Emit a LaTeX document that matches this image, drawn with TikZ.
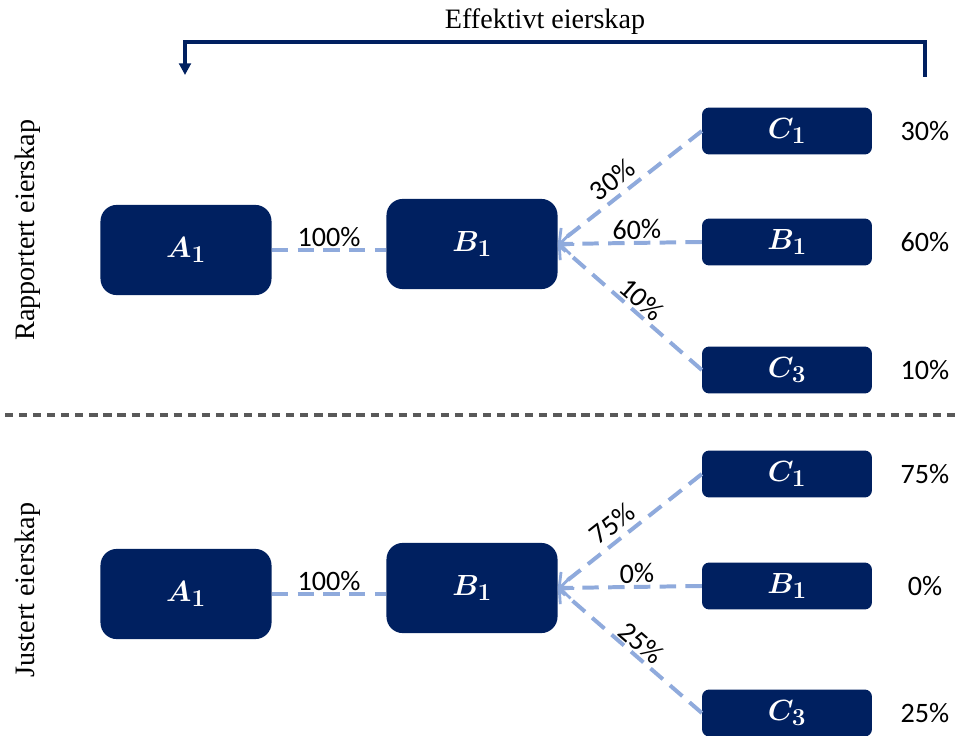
\documentclass[tikz,border=0pt]{standalone}
\usepackage{fontspec}
\setmainfont{Carlito}
\newfontfamily\serifface{Liberation Serif}
\usepackage{tikz}
\usetikzlibrary{arrows.meta}
\definecolor{navy}{HTML}{002060}
\definecolor{lightblue}{HTML}{8FAADC}
\definecolor{divgray}{HTML}{595959}
\tikzset{
  bigbox/.style={fill=navy, text=white, rounded corners=14pt, minimum width=146pt, minimum height=77pt, font=\boldmath\fontsize{32}{34}\selectfont},
  smallbox/.style={fill=navy, text=white, rounded corners=6pt, minimum width=145pt, minimum height=40pt, font=\boldmath\fontsize{32}{34}\selectfont},
  pct/.style={font=\fontsize{24}{26}\selectfont, inner sep=1.5pt},
  edge/.style={draw=lightblue, line width=3.4pt, dash pattern=on 14pt off 8pt},
  arr/.style={-{Straight Barb[length=9pt, width=18pt, line width=2.4pt]}},
  side/.style={font=\serifface\fontsize{24}{26}\selectfont, rotate=90}
}
% one fan of ownership: prefix, top y, B y, mid y, three labels, three right values
\newcommand{\fan}[8]{
  \node[smallbox] (#1c1) at (787,#2) {$C_1$};
  \node[smallbox] (#1b2) at (787,#3) {$B_1$};
  \node[smallbox] (#1c3) at (787,#4) {$C_3$};
  \node[pct] (#1v1) at (925,#2) {#5};
  \node[pct] (#1v2) at (925,#3) {#6};
  \node[pct] (#1v3) at (925,#4) {#7};
  \draw[edge, arr] (#1c1.west) -- node[pct, sloped, above=3pt, pos=0.55] {#5} (#1b1.east);
  \draw[edge, arr] (#1b2.west) -- node[pct, sloped, above, pos=0.45] {#8} (#1b1.east);
  \draw[edge, arr] (#1c3.west) -- node[pct, sloped, above, pos=0.48] {#7} (#1b1.east);
}

\begin{document}
\begin{tikzpicture}[x=0.03cm, y=-0.03cm]
        \useasboundingbox (0,0) rectangle (956,736);

        % header
        \node[font=\serifface\fontsize{24}{26}\selectfont] (eff) at (545,22) {Effektivt eierskap};
        \coordinate (effL) at (185,75);
        \coordinate (effR) at (925,77);
        \draw[navy, line width=2.6pt, -{Triangle[length=10pt, width=10pt]}] (effR) -- ++(0,-35) -| (effL);

        % rapportert
        \node[side] (rap) at (28,230) {Rapportert eierskap};
        \node[bigbox] (ta1) at (186,250) {$A_1$};
        \node[bigbox] (tb1) at (472,244) {$B_1$};
        \draw[edge] (ta1.east) -- node[pct, above, pos=0.5] {100\%} (ta1.east -| tb1.west);
        \fan{t}{131}{242}{370}{30\%}{60\%}{10\%}{60\%}

        % divider
        \coordinate (divL) at (5,415);
        \coordinate (divR) at (956,415);
        \draw[divgray, line width=2.6pt, dash pattern=on 7pt off 5pt] (divL) -- (divR);

        % justert
        \node[side] (jus) at (28,590) {Justert eierskap};
        \node[bigbox] (ba1) at (186,594) {$A_1$};
        \node[bigbox] (bb1) at (472,588) {$B_1$};
        \draw[edge] (ba1.east) -- node[pct, above, pos=0.5] {100\%} (ba1.east -| bb1.west);
        \fan{b}{474}{586}{713}{75\%}{0\%}{25\%}{0\%}

    \end{tikzpicture}
\end{document}
